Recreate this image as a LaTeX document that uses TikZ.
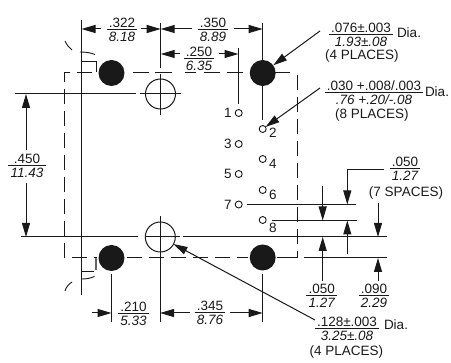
\documentclass[tikz,border=0pt]{standalone}
\usepackage{fontspec}
\setmainfont{Liberation Sans}
\usetikzlibrary{arrows.meta}
\newcommand{\frc}[2]{{\renewcommand{\arraystretch}{0}\begin{tabular}{@{\,}c@{\,}}\rule[-1.5pt]{0pt}{11pt}#1\\\hline\rule{0pt}{12pt}\itshape #2\end{tabular}}}
\tikzset{
  x=1pt,y=-1pt,
  every node/.style={inner sep=0pt,outer sep=0pt,font=\fontsize{13.5}{14}\selectfont,text=black!90},
  ln/.style={draw=black!90,line width=1pt},
  dsh/.style={ln,dash pattern=on 15pt off 7pt},
  thin line/.style={ln,line width=0.9pt},
  arr/.style={ln,-{Triangle[length=14pt,width=8pt]},shorten >=0pt},
  dot/.style={circle,fill=black!90,minimum size=26pt},
  hole/.style={circle,ln,minimum size=30pt},
  pin/.style={circle,ln,line width=0.9pt,minimum size=7pt},
  num/.style={font=\fontsize{13.5}{14}\selectfont}
}
\begin{document}
\begin{tikzpicture}
\useasboundingbox (0,0) rectangle (451,363);
% mounting holes
\node[dot] (dotTL) at (111.5,73) {};
\node[dot] (dotTR) at (262.7,73) {};
\node[dot] (dotBL) at (111.5,258) {};
\node[dot] (dotBR) at (262.7,257.5) {};
\node[hole] (holeT) at (160.5,94) {};
\node[hole] (holeB) at (160.3,237) {};
% pins
\foreach \n/\px/\py in {1/238.7/113,3/238.7/144,5/238.7/174,7/238.7/204.5,2/262.7/129,4/262.7/159,6/262.7/190,8/262.7/220}
  \node[pin] (pin\n) at (\px,\py) {};
\foreach \n/\py in {1/113,3/144,5/174,7/204.5}
  \node[num] (lab\n) at (228,\py) {\n};
\foreach \n/\py in {2/133,4/164,6/195,8/228}
  \node[num] (lab\n) at (273,\py) {\n};
% dashed outline
\draw[dsh] (64,258) -- (64,73) -- (96,73);
\draw[ln] (133,73) -- (149,73);
\draw[ln] (155,73) -- (172,73);
\draw[ln] (185,73) -- (196,73);
\draw[ln] (204,73) -- (220,73);
\draw[ln] (227,73) -- (243,73);
\draw[ln] (275,73) -- (290,73);
\draw[dsh] (297.7,75) -- (297.7,258) -- (292,258);
\draw[dsh] (72,258) -- (97,258);
\draw[dsh] (127,258) -- (248,258);
\draw[dsh] (277,258) -- (297,258);
% centre and extension lines
\draw[ln] (81.5,20) -- (81.5,295);
\draw[ln] (15,94) -- (136,94);
\draw[ln] (140,94) -- (181,94);
\draw[ln] (21,237) -- (138,237);
\draw[ln] (145,237) -- (180,237);
\draw[ln] (183,237) -- (387,237);
\draw[ln] (160.7,23) -- (160.7,68);
\draw[ln] (160.5,74) -- (160.5,115);
\draw[ln] (160,216) -- (160,322);
\draw[ln] (262.7,23) -- (dotTR);
\draw[ln] (dotTR) -- (262.7,120);
\draw[ln] (238.5,48) -- (238.5,104);
\draw[ln] (111.5,274) -- (111.5,322);
\draw[ln] (262.7,274) -- (262.7,322);
\draw[ln] (247,204.5) -- (356,204.5);
\draw[ln] (272,220.5) -- (357,220.5);
\draw[ln] (304,258) -- (387,258);
% corner details
\draw[thin line] (81.5,61) -- (96,61) -- (96,72);
\draw[thin line] (65,41) .. controls (67,45) and (69,48) .. (72,50);
\draw[thin line] (80,52) .. controls (85,52) and (90,52.5) .. (95,54.5);
\draw[thin line] (81.5,271) -- (94,271);
\draw[ln,line width=1.6pt,draw=black!60] (96,258) -- (96,270);
\draw[thin line] (81.5,279) .. controls (86,279) and (90,278.5) .. (94.5,276.5);
\draw[thin line] (65,291) .. controls (66,287) and (69,284) .. (72,282);
% dimension labels
\node (d322) at (122,30) {\frc{.322}{8.18}};
\node (d350) at (213,30) {\frc{.350}{8.89}};
\node (d250) at (199,58.5) {\frc{.250}{6.35}};
\node (d450) at (27,166) {\frc{.450}{11.43}};
\node (d210) at (133.5,313.5) {\frc{.210}{5.33}};
\node (d345) at (210,313) {\frc{.345}{8.76}};
\node (d050a) at (321.7,296) {\frc{.050}{1.27}};
\node (d090) at (374,296) {\frc{.090}{2.29}};
\node (d050b) at (405,168.5) {\frc{.050}{1.27}};
\node (sp7) at (406,193) {(7 SPACES)};
\node (d076) at (361,34.5) {\frc{.076±.003}{1.93±.08}};
\node[anchor=west] (dia1) at (397,32.5) {Dia.};
\node (pl1) at (362,56) {(4 PLACES)};
\node (d030) at (374,92.5) {\frc{.030 +.008/.003}{.76 +.20/-.08}};
\node[anchor=west] (dia2) at (425,92) {Dia.};
\node (pl2) at (372,115) {(8 PLACES)};
\node (d128) at (347,329) {\frc{.128±.003}{3.25±.08}};
\node[anchor=west] (dia3) at (384,325) {Dia.};
\node (pl3) at (346.5,352) {(4 PLACES)};
% dimension arrows
\draw[arr] (101,29) -- (81.5,29);
\draw[arr] (141,29) -- (160.7,29);
\draw[arr] (192,29) -- (160.7,29);
\draw[arr] (234,29) -- (262.7,29);
\draw[arr] (180,54) -- (160.7,54);
\draw[arr] (219,54) -- (238.5,54);
\draw[arr] (26,150) -- (26,94);
\draw[arr] (26,183) -- (26,237);
\draw[arr] (92,313) -- (111.5,313);
\draw[arr] (190,313) -- (160,313);
\draw[arr] (230,313) -- (262.7,313);
\draw[arr] (322.7,186) -- (322.7,220.5);
\draw[arr] (322.7,281) -- (322.7,237);
\draw[ln] (384,170) -- (347.3,170);
\draw[arr] (347.3,170) -- (347.3,204.5);
\draw[arr] (347.3,254) -- (347.3,220.5);
\draw[arr] (378,203) -- (378,237);
\draw[arr] (378,281) -- (378,258);
% leaders
\draw[arr] (320,31) -- (dotTR);
\draw[arr] (320,88) -- (pin2);
\draw[arr] (315,320) -- (holeB);
\end{tikzpicture}
\end{document}
